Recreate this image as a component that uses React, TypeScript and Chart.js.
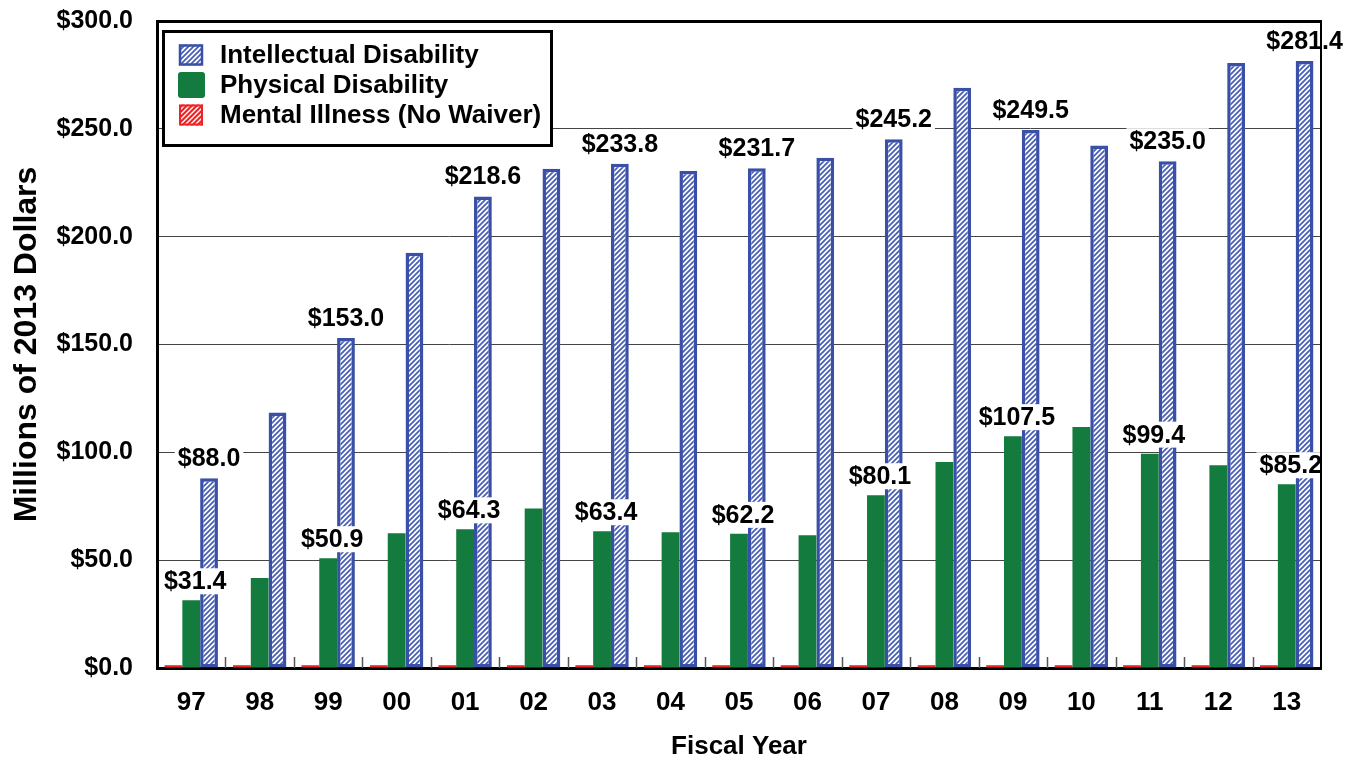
import React, { useEffect, useRef } from "react";
import { Chart, registerables } from "chart.js";
Chart.register(...registerables);

const categories = ["97", "98", "99", "00", "01", "02", "03", "04", "05", "06", "07", "08", "09", "10", "11", "12", "13"];
const intellectual = [88.0, 118.5, 153.0, 192.6, 218.6, 231.5, 233.8, 230.5, 231.7, 236.6, 245.2, 269.0, 249.5, 242.3, 235.0, 280.5, 281.4];
const physical = [31.4, 41.7, 50.9, 62.5, 64.3, 74.0, 63.4, 63.0, 62.2, 61.6, 80.1, 95.5, 107.5, 111.7, 99.4, 94.0, 85.2];
const mental = [1.3, 1.3, 1.3, 1.3, 1.3, 1.3, 1.3, 1.3, 1.3, 1.3, 1.3, 1.3, 1.3, 1.3, 1.3, 1.3, 1.3];
const labeledIdx = [0, 2, 4, 6, 8, 10, 12, 14, 16];
const yTicks = [0, 50, 100, 150, 200, 250, 300];
const legendLabels = ["Intellectual Disability", "Physical Disability", "Mental Illness (No Waiver)"];

const FONT = "'Liberation Sans', Arial, Helvetica, sans-serif";
const BLUE = "#3a4fa6";
const GREEN = "#137b3d";
const RED = "#ee2326";

function makeHatch(ctx: CanvasRenderingContext2D, bg: string, fg: string, size: number, lw: number) {
  const c = document.createElement("canvas");
  c.width = size;
  c.height = size;
  const g = c.getContext("2d")!;
  g.fillStyle = bg;
  g.fillRect(0, 0, size, size);
  g.strokeStyle = fg;
  g.lineWidth = lw;
  g.beginPath();
  g.moveTo(-1, size + 1);
  g.lineTo(size + 1, -1);
  g.moveTo(-1, 1);
  g.lineTo(1, -1);
  g.moveTo(size - 1, size + 1);
  g.lineTo(size + 1, size - 1);
  g.stroke();
  return ctx.createPattern(c, "repeat")!;
}

export default function App() {
  const ref = useRef<HTMLCanvasElement>(null);

  useEffect(() => {
    const canvas = ref.current!;
    const ctx = canvas.getContext("2d")!;
    const blueHatch = makeHatch(ctx, "#ffffff", "#4a60b8", 5, 1.8);
    const redHatch = makeHatch(ctx, RED, "#ffffff", 5, 1.4);

    const framePlugin = {
      id: "frame",
      afterDatasetsDraw(chart: any) {
        const { ctx: c, chartArea: a, scales } = chart;
        c.save();
        const xs = scales.x;
        c.strokeStyle = "#555";
        c.lineWidth = 1.5;
        for (let i = 0; i < categories.length - 1; i++) {
          const bx = Math.round((xs.getPixelForValue(i) + xs.getPixelForValue(i + 1)) / 2) + 0.5;
          c.beginPath();
          c.moveTo(bx, a.bottom - 11);
          c.lineTo(bx, a.bottom);
          c.stroke();
        }
        c.font = `bold 25px ${FONT}`;
        c.textAlign = "center";
        c.textBaseline = "middle";
        const specs: [number, number[], number, number][] = [
          [2, intellectual, 0, 20],
          [1, physical, 4, 19],
        ];
        for (const [ds, vals, dx, dy] of specs) {
          const meta = chart.getDatasetMeta(ds);
          for (const i of labeledIdx) {
            const el = meta.data[i];
            const txt = "$" + vals[i].toFixed(1);
            const w = c.measureText(txt).width;
            const cx = el.x + dx;
            const cy = el.y - dy;
            c.fillStyle = "#fff";
            c.fillRect(cx - w / 2 - 3, cy - 13, w + 6, 26);
            c.fillStyle = "#000";
            c.fillText(txt, cx, cy + 1);
          }
        }
        c.strokeStyle = "#000";
        c.lineWidth = 3;
        c.beginPath();
        c.moveTo(a.left, a.top + 0.5);
        c.lineTo(a.right + 1, a.top + 0.5);
        c.stroke();
        c.lineWidth = 2;
        c.beginPath();
        c.moveTo(a.right, a.top);
        c.lineTo(a.right, a.bottom);
        c.stroke();
        c.restore();
      },
      afterDraw(chart: any) {
        const c = chart.ctx;
        c.save();
        const bx = 163, by = 31, bw = 388, bh = 114;
        c.fillStyle = "#fff";
        c.fillRect(bx, by, bw, bh);
        c.strokeStyle = "#000";
        c.lineWidth = 3;
        c.strokeRect(bx + 0.5, by + 0.5, bw, bh);
        const rows = [55, 85, 115];
        c.font = `bold 26px ${FONT}`;
        c.textAlign = "left";
        c.textBaseline = "middle";
        rows.forEach((ry, k) => {
          const sx = 179, sw = 24, sh = 21, sy = ry - sh / 2;
          if (k === 0) {
            c.fillStyle = blueHatch;
            c.fillRect(sx, sy, sw, sh);
            c.strokeStyle = BLUE;
            c.lineWidth = 2.5;
            c.strokeRect(sx + 1, sy + 1, sw - 2, sh - 2);
          } else if (k === 1) {
            c.fillStyle = GREEN;
            c.beginPath();
            (c as any).roundRect(sx - 1, ry - 13, sw + 3, 26, 3);
            c.fill();
          } else {
            c.fillStyle = redHatch;
            c.fillRect(sx, sy, sw, sh);
            c.strokeStyle = RED;
            c.lineWidth = 2;
            c.strokeRect(sx + 1, sy + 1, sw - 2, sh - 2);
          }
          c.fillStyle = "#000";
          c.fillText(legendLabels[k], 220, ry + 1);
        });
        c.restore();
      },
    };

    const chart = new Chart(canvas, {
      type: "bar",
      data: {
        labels: categories,
        datasets: [
          {
            label: legendLabels[2],
            data: mental,
            backgroundColor: RED,
            borderWidth: 0,
            categoryPercentage: 0.78,
            barPercentage: 1.0,
          },
          {
            label: legendLabels[1],
            data: physical,
            backgroundColor: GREEN,
            borderWidth: 0,
            categoryPercentage: 0.78,
            barPercentage: 1.0,
          },
          {
            label: legendLabels[0],
            data: intellectual,
            backgroundColor: blueHatch as any,
            borderColor: BLUE,
            borderWidth: 3.5,
            borderSkipped: false,
            categoryPercentage: 0.78,
            barPercentage: 1.0,
          },
        ],
      },
      options: {
        animation: false,
        responsive: true,
        maintainAspectRatio: false,
        layout: { padding: { top: 21, right: 31, left: 0, bottom: 0 } },
        plugins: {
          legend: { display: false },
          tooltip: { enabled: false },
        },
        scales: {
          x: {
            afterFit: (s: any) => {
              s.height = 94;
              s.paddingLeft = 0;
              s.paddingRight = 0;
            },
            border: { display: true, color: "#000", width: 3 },
            grid: { drawOnChartArea: false, drawTicks: false },
            ticks: {
              color: "#000",
              padding: 19,
              font: { family: FONT, size: 26, weight: "bold" },
            },
            title: {
              display: true,
              text: "Fiscal Year",
              color: "#000",
              font: { family: FONT, size: 26, weight: "bold" },
              padding: { top: 0, bottom: 0 },
            },
          },
          y: {
            min: 0,
            max: 300,
            afterFit: (s: any) => {
              s.width = 157;
              s.paddingTop = 0;
              s.paddingBottom = 0;
            },
            afterBuildTicks: (s: any) => {
              s.ticks = yTicks.map((v) => ({ value: v }));
            },
            border: { display: true, color: "#000", width: 3 },
            grid: { color: "#444", lineWidth: 1, drawTicks: false },
            ticks: {
              color: "#000",
              padding: 24,
              font: { family: FONT, size: 25, weight: "bold" },
              callback: (v: any) => "$" + Number(v).toFixed(1),
            },
            title: {
              display: true,
              text: "Millions of 2013 Dollars",
              color: "#000",
              font: { family: FONT, size: 32, weight: "bold" },
              padding: { top: 8, bottom: 0 },
            },
          },
        },
      },
      plugins: [framePlugin],
    });
    return () => chart.destroy();
  }, []);

  return (
    <div style={{ position: "fixed", left: 0, top: 0, width: 1352, height: 762, background: "#fff" }}>
      <canvas ref={ref} />
    </div>
  );
}
